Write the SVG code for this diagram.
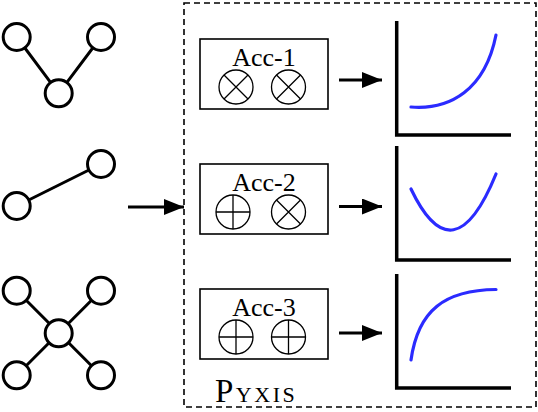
<svg xmlns="http://www.w3.org/2000/svg" width="538" height="412" viewBox="0 0 538 412">
<style>
.edge{stroke:#000;stroke-width:3;fill:none}
.node{fill:#fff;stroke:#000;stroke-width:3}
.acc{fill:#fff;stroke:#000;stroke-width:1.6}
.op{fill:none;stroke:#000;stroke-width:1.3}
.lbl{font-family:"Liberation Serif",serif;font-size:26px;fill:#000}
.axis{stroke:#000;stroke-width:3.5;fill:none}
.curve{stroke:#2b2bff;stroke-width:3.2;fill:none;stroke-linecap:round}
.arr{stroke:#000;stroke-width:3;fill:none}
</style>
<defs>
<marker id="ah" viewBox="0 0 20 16" refX="20" refY="8" markerWidth="20" markerHeight="16" markerUnits="userSpaceOnUse" orient="auto">
<path d="M0,0 L20,8 L0,16 Z" fill="#000"/>
</marker>
<g id="otimes-sym"><circle r="17" class="op"/><path class="op" d="M-12,-12 L12,12 M-12,12 L12,-12"/></g>
<g id="oplus-sym"><circle r="17" class="op"/><path class="op" d="M-17,0 L17,0 M0,-17 L0,17"/></g>
</defs>

<rect x="184" y="3" width="352" height="404" fill="none" stroke="#000" stroke-width="1.6" stroke-dasharray="6,4"/>

<g id="connectors">
<path class="edge" d="M16.7,37 L58.7,93.3 L101,37"/>
<path class="edge" d="M16.7,206 L101,164"/>
<path class="edge" d="M16.7,290.7 L101,375.3 M101,290.7 L16.7,375.3"/>
<line class="arr" x1="128" y1="207" x2="184" y2="207" marker-end="url(#ah)"/>
<line class="arr" x1="339" y1="80" x2="382" y2="80" marker-end="url(#ah)"/>
<line class="arr" x1="339" y1="206.5" x2="382" y2="206.5" marker-end="url(#ah)"/>
<line class="arr" x1="339" y1="333" x2="382" y2="333" marker-end="url(#ah)"/>
</g>

<g id="graph1">
<circle class="node" cx="16.7" cy="37" r="13.5"/>
<circle class="node" cx="101" cy="37" r="13.5"/>
<circle class="node" cx="58.7" cy="93.3" r="13.5"/>
</g>
<g id="graph2">
<circle class="node" cx="101" cy="164" r="13.5"/>
<circle class="node" cx="16.7" cy="206" r="13.5"/>
</g>
<g id="graph3">
<circle class="node" cx="16.7" cy="290.7" r="13.5"/>
<circle class="node" cx="101" cy="290.7" r="13.5"/>
<circle class="node" cx="58.7" cy="333.3" r="13.5"/>
<circle class="node" cx="16.7" cy="375.3" r="13.5"/>
<circle class="node" cx="101" cy="375.3" r="13.5"/>
</g>

<g id="acc1">
<rect class="acc" x="200" y="39" width="128" height="70"/>
<text class="lbl" x="264" y="66" text-anchor="middle">Acc-1</text>
<use href="#otimes-sym" x="236" y="87"/>
<use href="#otimes-sym" x="288.5" y="87"/>
</g>
<g id="acc2">
<rect class="acc" x="200" y="164" width="128" height="70"/>
<text class="lbl" x="264" y="191" text-anchor="middle">Acc-2</text>
<use href="#oplus-sym" x="233" y="212"/>
<use href="#otimes-sym" x="288.5" y="212"/>
</g>
<g id="acc3">
<rect class="acc" x="200" y="289" width="128" height="70"/>
<text class="lbl" x="264" y="316" text-anchor="middle">Acc-3</text>
<use href="#oplus-sym" x="236" y="337"/>
<use href="#oplus-sym" x="288.5" y="337"/>
</g>

<g id="plot1">
<path class="axis" d="M396.7,21 L396.7,135 L511,135"/>
<path class="curve" d="M411,107 C450,110 485,90 496,35"/>
</g>
<g id="plot2">
<path class="axis" d="M396.7,146 L396.7,260 L511,260"/>
<path class="curve" d="M411,189 Q453.5,278 496,174"/>
</g>
<g id="plot3">
<path class="axis" d="M396.7,274 L396.7,388 L511,388"/>
<path class="curve" d="M411,360 C418,310 445,290 496,289.5"/>
</g>

<text x="215" y="401.5" font-family="Liberation Serif, serif" fill="#000" letter-spacing="2.5"><tspan font-size="33">P</tspan><tspan font-size="22">YXIS</tspan></text>
</svg>
